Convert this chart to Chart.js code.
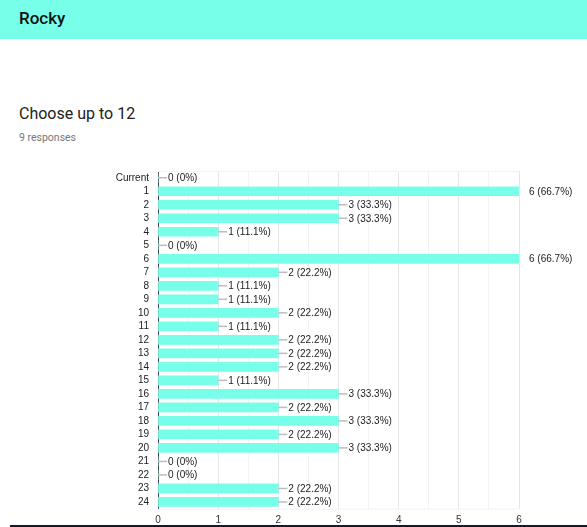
<!DOCTYPE html>
<html>
<head>
<meta charset="utf-8">
<script src="https://cdn.jsdelivr.net/npm/chart.js"></script>
<style>
  body { margin: 0; width: 587px; height: 527px; background: #fff; overflow: hidden; position: relative; font-family: Roboto, Arial, sans-serif; }
  .head { position: absolute; left: 0; top: 0; width: 587px; height: 39px; background: #77ffea; }
  .head span { position: absolute; left: 19px; top: 8px; font-size: 17px; font-weight: 500; color: #111; }
  .title { position: absolute; left: 19px; top: 104px; font-size: 16px; color: #212121; }
  .resp { position: absolute; left: 19px; top: 131px; font-size: 10.5px; color: #777; }
  .wrap { position: absolute; left: 0; top: 156px; width: 587px; height: 369px; }
  .foot { position: absolute; left: 10px; top: 525px; width: 577px; height: 2px; background: #141a2c; }
</style>
</head>
<body>
<div class="head"><span>Rocky</span></div>
<div class="title">Choose up to 12</div>
<div class="resp">9 responses</div>
<div class="wrap"><canvas id="chart"></canvas></div>
<div class="foot"></div>
<script>
var categories = ['Current', '1', '2', '3', '4', '5', '6', '7', '8', '9', '10', '11', '12',
    '13', '14', '15', '16', '17', '18', '19', '20', '21', '22', '23', '24'];
var counts = [0, 6, 3, 3, 1, 0, 6, 2, 1, 1, 2, 1, 2, 2, 2, 1, 3, 2, 3, 2, 3, 0, 0, 2, 2];
var percents = ['0%', '66.7%', '33.3%', '33.3%', '11.1%', '0%', '66.7%', '22.2%', '11.1%', '11.1%',
    '22.2%', '11.1%', '22.2%', '22.2%', '22.2%', '11.1%', '33.3%', '22.2%', '33.3%', '22.2%',
    '33.3%', '0%', '0%', '22.2%', '22.2%'];
var xTicks = [0, 1, 2, 3, 4, 5, 6];

// leader line + "n (p%)" after each bar
var valueLabels = {
    id: 'valueLabels',
    afterDatasetsDraw: function(chart) {
        var ctx = chart.ctx;
        var xs = chart.scales.x;
        var meta = chart.getDatasetMeta(0);
        ctx.save();
        ctx.font = '10px Arial, "Liberation Sans", sans-serif';
        ctx.textBaseline = 'middle';
        ctx.fillStyle = '#222';
        meta.data.forEach(function(bar, i) {
            var x0 = xs.getPixelForValue(counts[i]);
            var y = bar.y;
            if (counts[i] < xs.max) {
                ctx.strokeStyle = '#bdbdbd';
                ctx.lineWidth = 1.5;
                ctx.beginPath();
                ctx.moveTo(x0, y);
                ctx.lineTo(x0 + 9, y);
                ctx.stroke();
            }
            ctx.fillText(counts[i] + ' (' + percents[i] + ')', x0 + 10, y + 0.5);
        });
        ctx.restore();
    }
};

// faint frame top/bottom of plot
var frame = {
    id: 'frame',
    beforeDatasetsDraw: function(chart) {
        var a = chart.chartArea;
        var ctx = chart.ctx;
        ctx.save();
        ctx.strokeStyle = '#f2f2f2';
        ctx.lineWidth = 1;
        ctx.beginPath();
        ctx.moveTo(a.left, a.top + 0.5);
        ctx.lineTo(a.right, a.top + 0.5);
        ctx.moveTo(a.left, a.bottom + 0.5);
        ctx.lineTo(a.right, a.bottom + 0.5);
        ctx.stroke();
        ctx.restore();
    }
};

var ctx = document.getElementById('chart');
var myChart = new Chart(ctx, {
    type: 'bar',
    data: {
        labels: categories,
        datasets: [{
            data: counts,
            backgroundColor: '#77ffea',
            borderWidth: 0,
            barThickness: 9
        }]
    },
    options: {
        indexAxis: 'y',
        responsive: true,
        maintainAspectRatio: false,
        animation: false,
        layout: { padding: { top: 5, right: 68, left: 0, bottom: 0 } },
        plugins: {
            legend: { display: false },
            tooltip: { enabled: false }
        },
        scales: {
            x: {
                min: xTicks[0],
                max: xTicks[xTicks.length - 1],
                ticks: {
                    stepSize: 0.5,
                    autoSkip: false,
                    maxRotation: 0,
                    padding: 6,
                    color: '#333',
                    font: { family: 'Arial, "Liberation Sans", sans-serif', size: 10 },
                    callback: function(v) { return xTicks.indexOf(v) >= 0 ? v : ''; }
                },
                grid: {
                    drawTicks: false,
                    color: function(c) {
                        if (c.tick && c.tick.value === 0) return 'rgba(0,0,0,0)';
                        return Number.isInteger(c.tick && c.tick.value) ? '#e6e6e6' : '#f3f3f3';
                    }
                },
                border: { display: false },
                afterFit: function(s) { s.height = 16.3; }
            },
            y: {
                ticks: {
                    autoSkip: false,
                    padding: 9,
                    color: '#222',
                    font: { family: 'Arial, "Liberation Sans", sans-serif', size: 10 }
                },
                grid: { display: false, drawTicks: false },
                border: { display: true, color: '#444', width: 1 },
                afterFit: function(s) { s.width = 158; }
            }
        }
    },
    plugins: [frame, valueLabels]
});
</script>
</body>
</html>
